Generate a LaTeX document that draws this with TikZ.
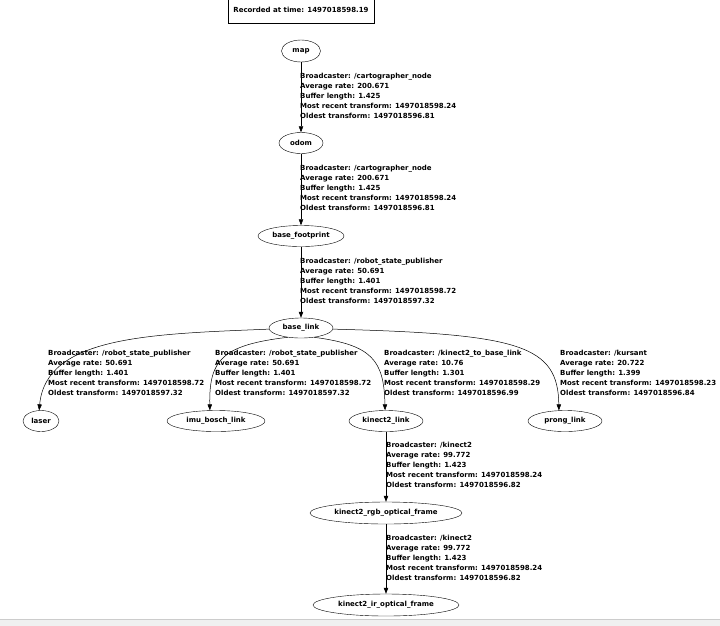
\documentclass[tikz,border=0pt]{standalone}
\usepackage{fontspec}
\setmainfont{DejaVu Sans}
\usepackage{tikz}
\usetikzlibrary{shapes.geometric,arrows.meta}

\newcommand{\tffont}{\fontsize{7}{10.2}\selectfont\bfseries}

\tikzset{
  frame/.style={ellipse, draw, inner sep=0pt, minimum height=21pt, font=\tffont},
  tfedge/.style={-{Triangle[length=6pt,width=4.4pt]}, line width=0.5pt},
  info/.style={anchor=north west, align=left, inner sep=0pt, font=\tffont}
}

\begin{document}
\begin{tikzpicture}[x=1pt,y=-1pt]
\useasboundingbox (0,0) rectangle (720,625);
\fill[gray!12] (0,619) rectangle (720,626);
\draw[gray!40] (0,619) -- (720,619);

\node[draw, rectangle, minimum width=146pt, minimum height=26pt, inner sep=0pt, font=\tffont] (rec) at (301,10)
{Recorded at time: 1497018598.19};

\node[frame, minimum width=39pt, minimum height=22pt] (map) at (301,51) {map};
\node[frame, minimum width=44pt] (odom) at (301,143) {odom};
\node[frame, minimum width=86pt] (bfp) at (301,236) {base\_footprint};
\node[frame, minimum width=64pt, minimum height=20pt] (blink) at (301,328) {base\_link};
\node[frame, minimum width=36pt] (laser) at (41,421) {laser};
\node[frame, minimum width=98pt] (imu) at (216,421) {imu\_bosch\_link};
\node[frame, minimum width=74pt] (klink) at (386,421) {kinect2\_link};
\node[frame, minimum width=74pt] (prong) at (565,421) {prong\_link};
\node[frame, minimum width=152pt, minimum height=22pt] (rgb) at (386,513) {kinect2\_rgb\_optical\_frame};
\node[frame, minimum width=146pt, minimum height=22pt] (ir) at (386,605) {kinect2\_ir\_optical\_frame};

% transforms
\node[info] (lmap) at (300,72.6)
{Broadcaster: /cartographer\_node\\Average rate: 200.671\\Buffer length: 1.425\\Most recent transform: 1497018598.24\\Oldest transform: 1497018596.81};
\node[info] (lodom) at (300,164.6)
{Broadcaster: /cartographer\_node\\Average rate: 200.671\\Buffer length: 1.425\\Most recent transform: 1497018598.24\\Oldest transform: 1497018596.81};
\node[info] (lbfp) at (300,257.6)
{Broadcaster: /robot\_state\_publisher\\Average rate: 50.691\\Buffer length: 1.401\\Most recent transform: 1497018598.72\\Oldest transform: 1497018597.32};
\node[info] (llaser) at (48,349.6)
{Broadcaster: /robot\_state\_publisher\\Average rate: 50.691\\Buffer length: 1.401\\Most recent transform: 1497018598.72\\Oldest transform: 1497018597.32};
\node[info] (limu) at (215,349.6)
{Broadcaster: /robot\_state\_publisher\\Average rate: 50.691\\Buffer length: 1.401\\Most recent transform: 1497018598.72\\Oldest transform: 1497018597.32};
\node[info] (lklink) at (384,349.6)
{Broadcaster: /kinect2\_to\_base\_link\\Average rate: 10.76\\Buffer length: 1.301\\Most recent transform: 1497018598.29\\Oldest transform: 1497018596.99};
\node[info] (lprong) at (560,349.6)
{Broadcaster: /kursant\\Average rate: 20.722\\Buffer length: 1.399\\Most recent transform: 1497018598.23\\Oldest transform: 1497018596.84};
\node[info] (lrgb) at (386,441.6)
{Broadcaster: /kinect2\\Average rate: 99.772\\Buffer length: 1.423\\Most recent transform: 1497018598.24\\Oldest transform: 1497018596.82};
\node[info] (lir) at (386,534.6)
{Broadcaster: /kinect2\\Average rate: 99.772\\Buffer length: 1.423\\Most recent transform: 1497018598.24\\Oldest transform: 1497018596.82};

\draw[tfedge] (map) -- (odom);
\draw[tfedge] (odom) -- (bfp);
\draw[tfedge] (bfp) -- (blink);
\draw[tfedge] (blink.182) .. controls (150,334) and (46,336) .. (laser.100);
\draw[tfedge] (blink.215) .. controls (222,345) and (209,360) .. (imu.120);
\draw[tfedge] (blink.-35) .. controls (372,345) and (384,360) .. (klink.95);
\draw[tfedge] (blink.-2) .. controls (520,334) and (558,345) .. (prong.120);
\draw[tfedge] (klink) -- (rgb);
\draw[tfedge] (rgb) -- (ir);
\end{tikzpicture}
\end{document}
